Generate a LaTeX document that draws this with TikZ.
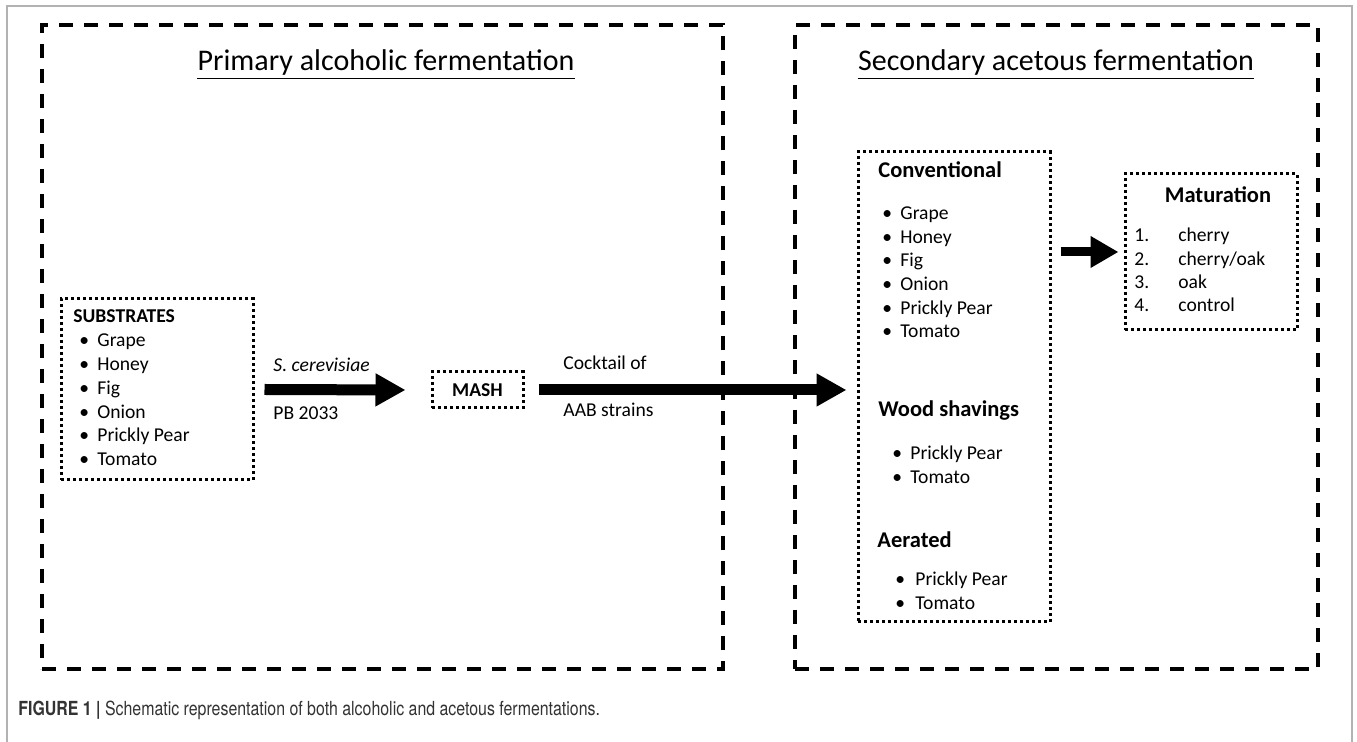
\documentclass[tikz,border=0pt]{standalone}
\usepackage{fontspec}
\setmainfont{Carlito}
\newfontfamily\capfont{TeX Gyre Heros}[FakeStretch=0.82]
\usetikzlibrary{arrows.meta,fit}

\tikzset{
  stagebox/.style={draw, line width=2pt, dash pattern=on 7pt off 5.5pt, inner sep=0pt},
  dotbox/.style={draw, line width=1.5pt, dash pattern=on 1.5pt off 1.5pt, inner sep=0pt},
  bigarrow/.style={line width=5.5pt, -{Triangle[length=15pt,width=15.5pt]}},
  smallarrow/.style={line width=4.5pt, -{Triangle[length=14pt,width=15pt]}},
  txt/.style={anchor=mid west, inner sep=0pt, font=\fontsize{9.8}{12}\selectfont},
  headtxt/.style={anchor=mid west, inner sep=0pt, font=\fontsize{11.25}{13}\selectfont\bfseries},
  titletxt/.style={anchor=base, inner sep=0pt, font=\fontsize{15}{18}\selectfont},
  uline/.style={line width=0.9pt},
}

\begin{document}
\begin{tikzpicture}[x=0.5pt, y=-0.5pt]
\useasboundingbox (0,0) rectangle (1357,742);
    \draw[gray!60, line width=1pt] (7,760) -- (7,6) -- (1352,6) -- (1352,760);

    % the two stages
    \node[stagebox, fit={(42,25) (723,669)}] (primary) {};
    \node[stagebox, fit={(795,25) (1318,669)}] (secondary) {};
    \node[titletxt] (ptitle) at (386,71) {Primary alcoholic fermentation};
    \node[titletxt] (stitle) at (1056,71) {Secondary acetous fermentation};
    \draw[uline] ([yshift=-3.8pt]ptitle.base west) -- ([yshift=-3.8pt]ptitle.base east);
    \draw[uline] ([yshift=-3.8pt]stitle.base west) -- ([yshift=-3.8pt]stitle.base east);

    % substrates
    \node[dotbox, fit={(61,299) (253,480)}] (subs) {};
    \node[txt, font=\fontsize{9.8}{12}\selectfont\bfseries] (subshead) at (73,318) {SUBSTRATES};
    \foreach \t [count=\i] in {Grape, Honey, Fig, Onion, Prickly Pear, Tomato} {
        \node[txt] (sb\i) at (79,{342+23.8*(\i-1)}) {\textbullet};
        \node[txt] (s\i) at (97,{342+23.8*(\i-1)}) {\t};
    }

    % mash
    \node[dotbox, fit={(432,372) (523,408)}] (mash) {};
    \node[font=\fontsize{9.8}{12}\selectfont\bfseries, inner sep=0pt] (mashtxt) at (mash) {MASH};

    \draw[bigarrow] ([xshift=5pt]subs.east) -- ([xshift=-12.5pt]mash.west);
    \node[txt] (yeast) at (273,367) {\textit{S. cerevisiae}};
    \node[txt] (strain) at (273,415) {PB 2033};

    % acetous fermentation methods
    \node[dotbox, fit={(858,152) (1050,622)}] (conv) {};
    \node[headtxt] (convhead) at (878,173) {Conventional};
    \foreach \t [count=\i] in {Grape, Honey, Fig, Onion, Prickly Pear, Tomato} {
        \node[txt] (cb\i) at (882,{215+23.6*(\i-1)}) {\textbullet};
        \node[txt] (c\i) at (900,{215+23.6*(\i-1)}) {\t};
    }
    \node[headtxt] (woodhead) at (878,412) {Wood shavings};
    \foreach \t [count=\i] in {Prickly Pear, Tomato} {
        \node[txt] (wb\i) at (892,{455+23.5*(\i-1)}) {\textbullet};
        \node[txt] (w\i) at (910,{455+23.5*(\i-1)}) {\t};
    }
    \node[headtxt] (airhead) at (877,543) {Aerated};
    \foreach \t [count=\i] in {Prickly Pear, Tomato} {
        \node[txt] (ab\i) at (895,{581+23.5*(\i-1)}) {\textbullet};
        \node[txt] (a\i) at (915,{581+23.5*(\i-1)}) {\t};
    }

    \draw[bigarrow] ([xshift=7pt]mash.east) -- ([xshift=-5pt]conv.west |- mash.west);
    \node[txt] (aab1) at (563,365) {Cocktail of};
    \node[txt] (aab2) at (563,412) {AAB strains};

    % maturation
    \node[dotbox, fit={(1125,174) (1297,330)}] (mat) {};
    \node[font=\fontsize{11.25}{13}\selectfont\bfseries, inner sep=0pt, anchor=mid] (mathead) at (1218,198) {Maturation};
    \foreach \t [count=\i] in {cherry, cherry/oak, oak, control} {
        \node[txt] (mn\i) at (1134,{237+23.4*(\i-1)}) {\i.};
        \node[txt] (m\i) at (1178,{237+23.4*(\i-1)}) {\t};
    }

    \draw[smallarrow] ([xshift=4.5pt]conv.east |- mat.west) -- ([xshift=-2.5pt]mat.west);

    \node[anchor=base west, inner sep=0pt, text=black!80, font=\capfont\fontsize{9.7}{11}\selectfont] (caption) at (18,716)
        {\textbf{FIGURE 1 |} Schematic representation of both alcoholic and acetous fermentations.};
\end{tikzpicture}
\end{document}
